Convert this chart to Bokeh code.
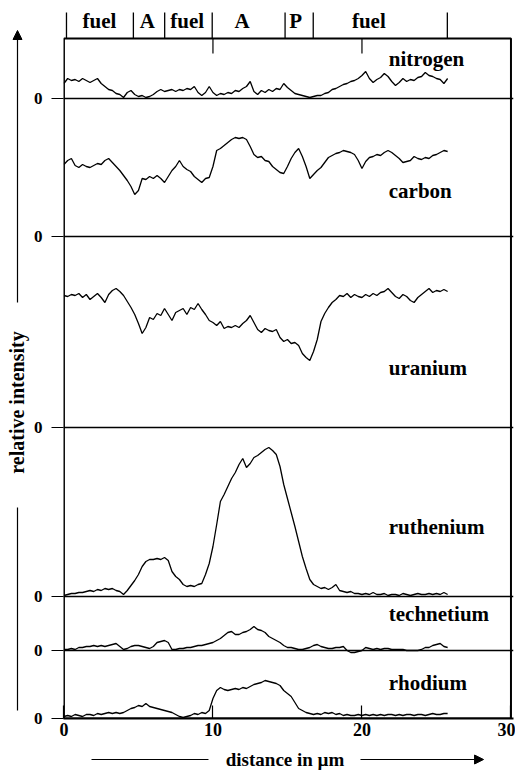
import numpy as np
from math import pi
from bokeh.plotting import figure
from bokeh.layouts import row, column
from bokeh.models import Range1d, FixedTicker, Span, Arrow, NormalHead
from bokeh.core.properties import value
from bokeh.embed import file_html
from bokeh.resources import INLINE

# distance along the line scan (µm), sampled every 0.25 µm
distance = np.arange(104) * 0.25

# relative intensities (arbitrary units)
nitrogen = [15, 20, 18, 19, 17, 20, 18, 16, 18, 20, 15, 12, 9, 8, 5, 4, 1, 6, 8, 4,
            2, 3, 1, 2, 4, 7, 9, 7, 8, 9, 7, 9, 8, 10, 9, 12, 6, 3, 6, 12,
            6, 3, 5, 4, 6, 5, 8, 7, 10, 12, 17, 7, 4, 8, 6, 9, 7, 10, 9, 15,
            11, 8, 5, 4, 3, 2, 1, 2, 3, 3, 5, 6, 9, 10, 12, 14, 15, 17, 18, 20,
            23, 27, 20, 16, 19, 21, 25, 22, 17, 13, 16, 20, 17, 19, 18, 21, 22, 26, 23, 22,
            20, 19, 15, 20]
carbon = [72, 76, 78, 71, 69, 72, 70, 69, 71, 73, 72, 76, 78, 74, 70, 66, 61, 56, 50, 42,
          46, 58, 57, 60, 58, 61, 58, 54, 60, 66, 70, 76, 70, 67, 65, 60, 57, 54, 58, 59,
          70, 86, 88, 91, 94, 97, 99, 98, 99, 97, 90, 82, 79, 80, 76, 75, 70, 67, 64, 63,
          70, 78, 84, 88, 80, 70, 58, 62, 66, 69, 74, 79, 81, 83, 84, 86, 85, 84, 82, 76,
          68, 75, 79, 80, 82, 81, 84, 86, 84, 81, 78, 74, 75, 76, 80, 78, 77, 79, 78, 81,
          82, 84, 86, 85]
uranium = [132, 131, 133, 132, 134, 130, 133, 128, 131, 134, 130, 125, 133, 137, 139, 136, 132, 126, 120, 113,
           104, 94, 100, 110, 108, 114, 112, 119, 113, 107, 115, 117, 119, 113, 120, 118, 124, 118, 113, 107,
           105, 102, 106, 99, 101, 100, 102, 100, 104, 107, 112, 105, 98, 95, 99, 97, 96, 98, 90, 86,
           88, 84, 85, 82, 74, 70, 67, 76, 88, 106, 114, 120, 125, 128, 132, 131, 134, 130, 133, 131,
           130, 133, 131, 134, 132, 135, 136, 139, 135, 131, 129, 133, 131, 127, 125, 130, 133, 136, 139, 135,
           137, 136, 138, 136]
ruthenium = [1, 2, 3, 3, 4, 4, 5, 6, 5, 7, 6, 8, 7, 8, 6, 5, 2, 6, 11, 16,
             22, 30, 35, 37, 37, 38, 37, 39, 36, 25, 20, 17, 12, 10, 11, 10, 12, 13, 22, 33,
             50, 72, 95, 102, 110, 118, 124, 132, 138, 129, 133, 139, 141, 144, 147, 149, 146, 142, 130, 112,
             98, 84, 70, 55, 40, 28, 17, 12, 10, 8, 9, 7, 9, 12, 6, 5, 4, 5, 3, 3,
             2, 3, 2, 4, 2, 2, 3, 1, 2, 2, 1, 3, 2, 1, 2, 3, 2, 2, 3, 2,
             3, 2, 4, 2]
technetium = [1, 1, 2, 1, 3, 3, 4, 4, 5, 4, 5, 4, 5, 6, 7, 4, 1, 2, 4, 5,
              5, 4, 3, 2, 4, 8, 9, 10, 8, 1, 1, 2, 2, 3, 3, 4, 5, 5, 6, 7,
              8, 10, 12, 15, 18, 19, 16, 16, 18, 19, 21, 24, 21, 20, 18, 14, 12, 10, 8, 5,
              3, 3, 2, 1, 1, 2, 3, 5, 6, 4, 3, 2, 2, 3, 3, 4, 0, -2, -2, -1,
              0, 3, 2, 1, 2, 1, 2, 2, 1, 1, 1, 1, 0, 0, 0, 0, 1, 3, 3, 5,
              6, 7, 4, 3]
rhodium = [2, 3, 2, 4, 3, 2, 4, 4, 3, 5, 4, 5, 6, 5, 6, 5, 6, 8, 10, 11,
           13, 12, 15, 12, 11, 10, 9, 8, 7, 6, 4, 2, 1, 2, 3, 5, 4, 6, 5, 8,
           20, 28, 31, 29, 28, 29, 30, 29, 31, 30, 32, 34, 35, 36, 38, 37, 36, 35, 33, 28,
           25, 22, 16, 10, 8, 6, 5, 4, 5, 4, 6, 5, 6, 4, 5, 3, 4, 3, 3, 4,
           3, 4, 3, 4, 3, 4, 3, 4, 4, 3, 4, 3, 4, 4, 3, 4, 4, 3, 4, 5,
           4, 4, 5, 5]

elements = ["nitrogen", "carbon", "uranium", "ruthenium", "technetium", "rhodium"]
series = [nitrogen, carbon, uranium, ruthenium, technetium, rhodium]

# structure zones along the scan (µm)
zone_names = ["fuel", "A", "fuel", "A", "P", "fuel"]
zone_edges = [0.17, 4.66, 6.76, 9.95, 14.84, 16.73, 25.73]

x_ticks = [0, 10, 20, 30]

# ---- layout (stacking offsets and positions in plot units) ----
offsets = [620, 482, 291, 122, 68, 0]
label_x = 21.8
label_y = [660, 528, 351, 192, 105, 36]
zone_label_x = [2.38, 5.6, 8.27, 11.95, 15.55, 20.46]
FRAME_TOP = 680
FONT = "Liberation Serif"
xr = Range1d(-0.03, 30.17)

# ---------------- main panel ----------------
p = figure(width=485, height=746, x_range=xr, y_range=Range1d(0, 718),
           output_backend="svg", toolbar_location=None, title=None,
           min_border_left=32, min_border_right=2, min_border_top=0, min_border_bottom=28)
p.xgrid.visible = False
p.ygrid.visible = False
p.outline_line_color = None

p.yaxis.ticker = FixedTicker(ticks=offsets)
p.yaxis.major_label_overrides = {o: "0" for o in offsets}
p.yaxis.axis_line_color = None
p.yaxis.major_tick_in = 0
p.yaxis.major_tick_out = 12
p.yaxis.major_tick_line_color = "black"
p.yaxis.major_tick_line_width = 1.2
p.yaxis.major_label_standoff = 9
p.yaxis.major_label_text_font = FONT
p.yaxis.major_label_text_font_style = "bold"
p.yaxis.major_label_text_font_size = "17px"
p.yaxis.major_label_text_color = "black"

p.xaxis.ticker = FixedTicker(ticks=x_ticks)
p.xaxis.axis_line_color = "black"
p.xaxis.axis_line_width = 2
p.xaxis.major_tick_in = 13
p.xaxis.major_tick_out = 0
p.xaxis.major_tick_line_color = "black"
p.xaxis.major_tick_line_width = 1.2
p.xaxis.major_label_standoff = 4
p.xaxis.major_label_text_font = FONT
p.xaxis.major_label_text_font_style = "bold"
p.xaxis.major_label_text_font_size = "18px"
p.xaxis.major_label_text_color = "black"

p.quad(left=0, right=30, bottom=0, top=FRAME_TOP, fill_color=None, line_color="black", line_width=2)
p.segment(x0=x_ticks[1:3], y0=FRAME_TOP, x1=x_ticks[1:3], y1=FRAME_TOP - 15, line_color="black", line_width=1.2)

for o in offsets[:-1]:
    p.add_layout(Span(location=o, dimension="width", line_color="black", line_width=1.3))

for off, vals in zip(offsets, series):
    p.line(distance, off + np.array(vals), line_color="black", line_width=1.3)

p.text(x=[label_x] * len(elements), y=label_y, text=elements, text_align="left", text_baseline="middle",
       text_font=value(FONT), text_font_style="bold", text_font_size="21px", text_color="black")

p.segment(x0=zone_edges, y0=FRAME_TOP, x1=zone_edges, y1=FRAME_TOP + 26, line_color="black", line_width=1.3)
p.text(x=zone_label_x, y=[FRAME_TOP + 18] * len(zone_names), text=zone_names, text_align="center",
       text_baseline="middle", text_font=value(FONT), text_font_style="bold", text_font_size="21px",
       text_color="black")

# ---------------- y-title strip ----------------
left = figure(width=30, height=774, x_range=Range1d(0, 30), y_range=Range1d(0, 774),
              output_backend="svg", toolbar_location=None, title=None,
              x_axis_location=None, y_axis_location=None,
              min_border_left=0, min_border_right=0, min_border_top=0, min_border_bottom=0)
left.xgrid.visible = False
left.ygrid.visible = False
left.outline_line_color = None
left.text(x=[16], y=[372], text=["relative intensity"], angle=pi / 2, text_align="center",
          text_baseline="middle", text_font=value(FONT), text_font_style="bold",
          text_font_size="20px", text_color="black")
left.segment(x0=[17], y0=[64], x1=[17], y1=[267], line_color="black", line_width=1.2)
left.add_layout(Arrow(end=NormalHead(size=9, fill_color="black", line_color="black"),
                      x_start=17, y_start=472, x_end=17, y_end=744, line_width=1.2, line_color="black"))

# ---------------- x-title strip ----------------
bottom = figure(width=485, height=28, x_range=xr, y_range=Range1d(0, 28),
                output_backend="svg", toolbar_location=None, title=None,
                x_axis_location=None, y_axis_location=None,
                min_border_left=32, min_border_right=2, min_border_top=0, min_border_bottom=0)
bottom.xgrid.visible = False
bottom.ygrid.visible = False
bottom.outline_line_color = None
bottom.text(x=[14.84], y=[15], text=["distance in µm"], text_align="center", text_baseline="middle",
            text_font=value(FONT), text_font_style="bold", text_font_size="19px", text_color="black")
bottom.segment(x0=[1.85], y0=[15], x1=[9.7], y1=[15], line_color="black", line_width=1.2)
bottom.add_layout(Arrow(end=NormalHead(size=9, fill_color="black", line_color="black"),
                        x_start=19.9, y_start=15, x_end=28.16, y_end=15, line_width=1.2, line_color="black"))

layout = row(left, column(p, bottom))
open("out.html", "w").write(file_html(layout, INLINE))
